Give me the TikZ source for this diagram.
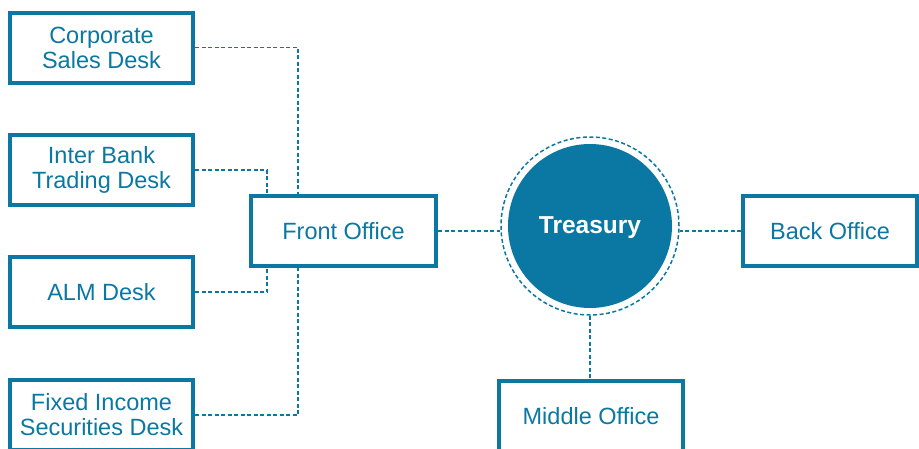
\documentclass[tikz,border=0pt]{standalone}
\usepackage{fontspec}
\setmainfont{Liberation Sans}
\usepackage{tikz}
\usetikzlibrary{calc}
\definecolor{acc}{HTML}{0A78A2}
\tikzset{
  box/.style={draw=acc,line width=4pt,minimum height=70pt,inner sep=2pt,font=\fontsize{23.5}{25}\selectfont\color{acc},align=center,fill=white},
  hub/.style={circle,fill=acc,minimum size=164pt,inner sep=0pt,font=\fontsize{24.5}{25}\selectfont\bfseries\color{white}},
  ring/.style={circle,draw=acc,line width=1.5pt,dash pattern=on 4pt off 2.5pt,minimum size=178pt,inner sep=0pt},
  link/.style={draw=acc,line width=1.5pt,dash pattern=on 4pt off 2.5pt},
}

\begin{document}
\begin{tikzpicture}[x=1pt,y=-1pt]
\useasboundingbox (0,0) rectangle (919,448);
% desks on the left
\node[box,minimum width=183pt] (corp) at (101.5,47.5) {Corporate\\Sales Desk};
\node[box,minimum width=183pt] (bank) at (101.5,170) {Inter Bank\\Trading Desk};
\node[box,minimum width=183pt] (alm) at (101.5,292) {ALM Desk};
\node[box,minimum width=183pt] (fixed) at (101.5,415) {Fixed Income\\Securities Desk};
% offices
\node[box,minimum width=185pt] (front) at (343.5,231) {Front Office};
\node[ring] (ring) at (590,226) {};
\node[hub] (treasury) at (590,226) {\smash{\raisebox{-7pt}{Treasury}}};
\node[box,minimum width=174pt] (back) at (830,231) {Back Office};
\node[box,minimum width=184pt] (middle) at (591,416) {Middle Office};
% links
\draw[link] (corp.east) -| ([xshift=49pt]front.north west);
\draw[link] (bank.east) -| ([xshift=18pt]front.north west);
\draw[link] (alm.east) -| ([xshift=18pt]front.south west);
\draw[link] (fixed.east) -| ([xshift=49pt]front.south west);
\draw[link] (front.east) -- (front.east -| ring.west);
\draw[link] (back.west) -- (back.west -| ring.east);
\draw[link] (ring.south) -- (ring.south |- middle.north);
\end{tikzpicture}
\end{document}
